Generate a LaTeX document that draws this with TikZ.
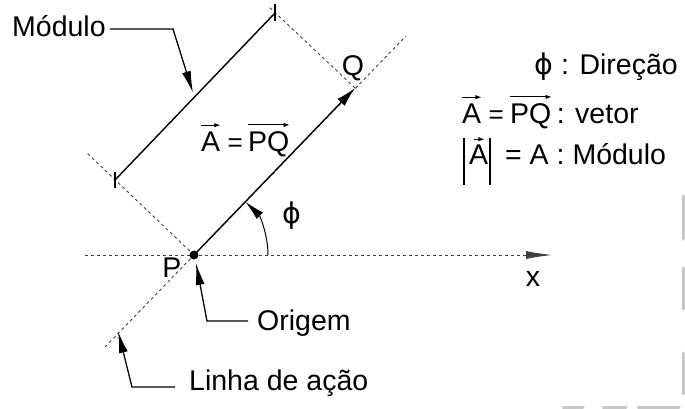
\documentclass[tikz,border=0pt]{standalone}
\usepackage{fontspec}
\setmainfont{Liberation Sans}
\newfontfamily\phifont{DejaVu Sans}
\usetikzlibrary{arrows.meta}
\begin{document}
\begin{tikzpicture}[x=1pt,y=-1pt,
  lbl/.style={inner sep=0pt,font=\fontsize{28.5}{33}\selectfont},
  eqs/.style={inner sep=0pt,font=\fontsize{26}{30}\selectfont},
  solidln/.style={line width=1.4pt,black},
  dashln/.style={line width=0.9pt,black!75,dash pattern=on 3pt off 3pt},
  leader/.style={line width=1.3pt,-{Latex[length=22pt,width=9pt]}},
  overarr/.style={line width=1pt,-{Latex[length=6pt,width=4.5pt]}},
  artifact/.style={line width=3pt,black!22,line cap=round}]
\useasboundingbox (0,0) rectangle (685,408);
% key points
\coordinate (P) at (194,255);
\coordinate (Q) at (355,88);
\coordinate (LA1) at (105,347);
\coordinate (LA2) at (406,36);
\coordinate (M1) at (115,180);
\coordinate (M2) at (275,13);
\coordinate (E1) at (87,153);
\coordinate (E2) at (268,6);
\coordinate (X0) at (85,255);
\coordinate (X1) at (552,255);
% line of action and extension lines
\draw[dashln] (LA1) -- (LA2);
\draw[dashln] (P) -- (E1);
\draw[dashln] (Q) -- (E2);
% x axis
\draw[dashln,-{Latex[length=26pt,width=8pt]}] (X0) -- (X1);
% module dimension line with ticks
\draw[solidln] (M1) -- (M2);
\draw[solidln] ([yshift=-8pt]M1) -- ([yshift=8pt]M1);
\draw[solidln] ([yshift=-8pt]M2) -- ([yshift=9pt]M2);
% vector
\draw[solidln,-{Latex[length=20pt,width=10pt]}] (P) -- (Q);
\fill (P) circle (4.5pt);
% angle
\draw[line width=1pt,-{Latex[length=20pt,width=9pt]}] ([xshift=74pt]P) arc[start angle=0,end angle=46,radius=74pt];
% labels
\node[lbl] (phi) at (292,216) {\phifont ϕ};
\node[lbl] (Plbl) at (172,268) {P};
\node[lbl] (Qlbl) at (353,68) {Q};
\node[lbl] (xlbl) at (533,279) {x};
% A = PQ in the diagram
\node[lbl,anchor=base west] (dA) at (201,151) {A};
\node[eqs,anchor=base west] (dEq) at ([xshift=7pt]dA.base east) {=};
\node[lbl,anchor=base west] (dPQ) at ([xshift=5pt]dEq.base east) {PQ};
\draw[overarr] ([yshift=6pt]dA.north west) -- ([yshift=6pt]dA.north east);
\draw[overarr] ([yshift=6pt]dPQ.north west) -- ([yshift=6pt]dPQ.north east);
% Modulo leader
\node[lbl,anchor=base west] (mod) at (12,36) {Módulo};
\coordinate (modc) at (173,29);
\coordinate (modt) at (193,93);
\draw[leader] ([xshift=4pt]mod.east |- modc) -- (modc) -- (modt);
% Origem leader
\node[lbl,anchor=base west] (orig) at (257,330) {Origem};
\coordinate (origc) at (207,321);
\coordinate (origt) at (196,263);
\draw[leader] ([xshift=-9pt]orig.west |- origc) -- (origc) -- (origt);
% Linha de acao leader
\node[lbl,anchor=base west] (linha) at (189,390) {Linha de ação};
\coordinate (linc) at (132,387);
\coordinate (lint) at (118,331);
\draw[leader] ([xshift=-14pt]linha.west |- linc) -- (linc) -- (lint);
% legend line 1
\node[lbl,anchor=base east] (leg1) at (678,74) {{\phifont ϕ} : Direção};
% legend line 2
\node[lbl,anchor=base west] (lA) at (462,123) {A};
\node[eqs,anchor=base west] (lEq) at ([xshift=7pt]lA.base east) {=};
\node[lbl,anchor=base west] (lPQ) at ([xshift=6pt]lEq.base east) {PQ};
\node[lbl,anchor=base west] (lvet) at ([xshift=5pt]lPQ.base east) {: vetor};
\draw[overarr] ([yshift=6pt]lA.north west) -- ([yshift=6pt]lA.north east);
\draw[overarr] ([yshift=6pt]lPQ.north west) -- ([yshift=6pt]lPQ.north east);
% legend line 3
\node[lbl,anchor=base west] (mA) at (469,164) {A};
\draw[overarr] ([yshift=5pt,xshift=5pt]mA.north west) -- ([yshift=5pt,xshift=-4pt]mA.north east);
\coordinate (barL) at (464,138);
\coordinate (barR) at (490,138);
\draw[line width=1.4pt] (barL) -- ++(0,47);
\draw[line width=1.4pt] (barR) -- ++(0,47);
\node[lbl,anchor=base west] (mrest) at (505,164) {= A : Módulo};
% scan artifacts at the edges
\draw[artifact] (683,196) -- (683,239);
\draw[artifact] (683,268) -- (683,309);
\draw[artifact] (683,353) -- (683,394);
\draw[artifact] (563,407) -- (583,407);
\draw[artifact] (603,407) -- (626,407);
\draw[artifact] (638,407) -- (679,407);
\end{tikzpicture}
\end{document}
